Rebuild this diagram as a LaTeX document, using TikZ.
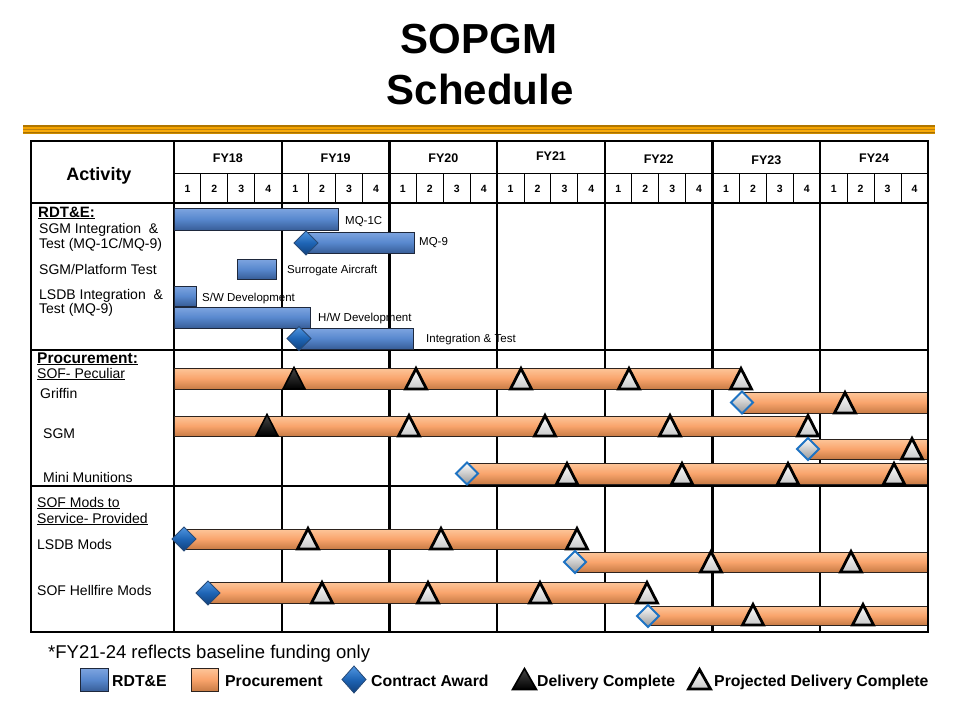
\documentclass[tikz,border=0pt]{standalone}
\usepackage{fontspec}
\setmainfont{Liberation Sans}
% palette
\definecolor{rdtTop}{RGB}{126,165,224}
\definecolor{rdtMid}{RGB}{88,136,206}
\definecolor{rdtBot}{RGB}{56,94,152}
\definecolor{rdtEdge}{RGB}{30,40,60}
\definecolor{procTop}{RGB}{253,198,154}
\definecolor{procMid}{RGB}{249,164,108}
\definecolor{procBot}{RGB}{200,124,70}
\definecolor{procEdge}{RGB}{45,35,30}
\definecolor{triGray}{RGB}{200,200,200}
\definecolor{doneTop}{RGB}{70,70,70}
\definecolor{awTop}{RGB}{80,150,225}
\definecolor{awMid}{RGB}{30,100,180}
\definecolor{awBot}{RGB}{16,64,124}
\definecolor{awEdge}{RGB}{40,75,120}
\definecolor{openGray}{RGB}{150,150,150}
\definecolor{openEdge}{RGB}{30,115,195}
\definecolor{goldA}{RGB}{176,118,0}
\definecolor{goldB}{RGB}{245,164,0}
\definecolor{goldC}{RGB}{190,128,10}
\definecolor{goldD}{RGB}{248,170,10}
\definecolor{goldE}{RGB}{168,112,0}
\definecolor{goldF}{RGB}{205,140,0}
\begin{document}
\begin{tikzpicture}[x=1pt,y=-1pt,
  gridthick/.style={line width=2.2pt},
  gridthin/.style={line width=1pt},
  lbl/.style={anchor=base west,inner sep=0pt,font=\fontsize{14}{15}\selectfont},
  seclbl/.style={anchor=base west,inner sep=0pt,font=\bfseries\fontsize{15.5}{17}\selectfont},
  barlbl/.style={anchor=base west,inner sep=0pt,font=\fontsize{11.5}{13}\selectfont},
  yearlbl/.style={inner sep=0pt,font=\bfseries\fontsize{12.5}{14}\selectfont},
  qlbl/.style={inner sep=0pt,font=\bfseries\fontsize{10.5}{12}\selectfont},
  leglbl/.style={anchor=base west,inner sep=0pt,font=\bfseries\fontsize{15.8}{17}\selectfont},
  rdtbar/.style={top color=rdtTop,bottom color=rdtBot,middle color=rdtMid,
                 draw=rdtEdge,line width=0.9pt},
  procbar/.style={top color=procTop,bottom color=procBot,middle color=procMid,
                  draw=procEdge,line width=0.9pt},
  projshape/.style={top color=white,bottom color=triGray,
                    draw=black,line width=2.8pt,line join=miter},
  doneshape/.style={top color=doneTop,bottom color=black,
                    draw=black,line width=1.6pt,line join=miter},
  awardshape/.style={top color=awTop,bottom color=awBot,middle color=awMid,
                     draw=awEdge,line width=0.8pt},
  openshape/.style={top color=white,bottom color=openGray,
                    draw=openEdge,line width=2pt},
  projtri/.pic={\path[projshape] (-10.5,0) -- (0,-20.5) -- (10.5,0) -- cycle;},
  donetri/.pic={\path[doneshape] (-11,0) -- (0,-21.5) -- (11,0) -- cycle;},
  awardblue/.pic={\path[awardshape] (-12,0) -- (0,-12) -- (12,0) -- (0,12) -- cycle;},
  awardopen/.pic={\path[openshape] (-11,0) -- (0,-11) -- (11,0) -- (0,11) -- cycle;}
]
\useasboundingbox (0,0) rectangle (960,720);

% ---------- title ----------
\node[anchor=base,inner sep=0pt,font=\bfseries\fontsize{42}{48}\selectfont] (title1) at (479,53) {SOPGM};
\node[anchor=base,inner sep=0pt,font=\bfseries\fontsize{42}{48}\selectfont] (title2) at (480,104) {Schedule};

% ---------- gold rule ----------
\fill[goldA] (23,125) rectangle (935,126.8);
\fill[goldB] (23,126.8) rectangle (935,128.6);
\fill[goldC] (23,128.6) rectangle (935,129.6);
\fill[goldD] (23,129.6) rectangle (935,131.6);
\fill[goldE] (23,131.6) rectangle (935,132.6);
\fill[goldF] (23,132.6) rectangle (935,134);

% ---------- table grid ----------
\draw[gridthin] (174,173) -- (928,173);
\foreach \y in {203,350,486} \draw[gridthick] (31,\y) -- (928,\y);
\foreach \i in {0,...,6} {
  \pgfmathsetmacro{\xa}{174+\i*107.71}
  \foreach \k in {1,2,3} {
    \pgfmathsetmacro{\xq}{\xa+\k*26.93}
    \draw[gridthin] (\xq,173) -- (\xq,203);
  }
  \foreach \k in {1,...,4} {
    \pgfmathsetmacro{\xc}{\xa+(\k-0.5)*26.93}
    \node[qlbl] (q\i\k) at (\xc,189) {\k};
  }
}
\foreach \i in {1,...,6} {
  \pgfmathsetmacro{\xa}{174+\i*107.71}
  \draw[gridthick] (\xa,141) -- (\xa,632);
}
\draw[line width=2.8pt] (174,140) -- (174,632);

\node[yearlbl] (fy18) at (227.9,158) {FY18};
\node[yearlbl] (fy19) at (335.6,158) {FY19};
\node[yearlbl] (fy20) at (443.3,158) {FY20};
\node[yearlbl] (fy21) at (551.0,156) {FY21};
\node[yearlbl] (fy22) at (658.7,159) {FY22};
\node[yearlbl] (fy23) at (766.4,160) {FY23};
\node[yearlbl] (fy24) at (874.1,158) {FY24};
\node[inner sep=0pt,font=\bfseries\fontsize{18}{20}\selectfont] (activity) at (99,176) {Activity};

% ---------- activity labels ----------
\node[seclbl,font=\bfseries\fontsize{15}{17}\selectfont] (rdte) at (38,217) {\underline{RDT\&E:}};
\node[lbl] (sgmit1) at (39,233.5) {SGM Integration \ \&};
\node[lbl] (sgmit2) at (39,248) {Test (MQ-1C/MQ-9)};
\node[lbl] (sgmpt) at (39,274) {SGM/Platform Test};
\node[lbl] (lsdbit1) at (39,299) {LSDB Integration \ \&};
\node[lbl] (lsdbit2) at (39,313) {Test (MQ-9)};

\node[seclbl] (proc) at (37,363) {\underline{Procurement:}};
\node[lbl] (sofpec) at (37,378) {\underline{SOF- Peculiar}};
\node[lbl] (griffin) at (40,398) {Griffin};
\node[lbl] (sgm) at (43,438) {SGM};
\node[lbl] (mini) at (43,482) {Mini Munitions};

\node[lbl] (sofmods1) at (37,507) {\underline{SOF Mods to}};
\node[lbl] (sofmods2) at (37,523) {\underline{Service- Provided}};
\node[lbl] (lsdbmods) at (37,549) {LSDB Mods};
\node[lbl] (hellfire) at (37,595) {SOF Hellfire Mods};

% ---------- RDT&E bars ----------
\path[rdtbar] (174,208) rectangle (338,230);
\path[rdtbar] (306,232) rectangle (414,253);
\pic at (306,243) {awardblue};
\path[rdtbar] (237,259) rectangle (276,279);
\path[rdtbar] (174,286) rectangle (196,306);
\path[rdtbar] (174,307) rectangle (310,328);
\path[rdtbar] (299,328) rectangle (413,349);
\pic at (299,338.5) {awardblue};

\node[barlbl] (mq1c) at (345,224) {MQ-1C};
\node[barlbl] (mq9) at (419,245) {MQ-9};
\node[barlbl] (surr) at (287,273) {Surrogate Aircraft};
\node[barlbl] (swdev) at (202,301) {S/W Development};
\node[barlbl] (hwdev) at (318,321) {H/W Development};
\node[barlbl] (intest) at (426,342) {Integration \& Test};

% ---------- procurement bars ----------
% Griffin
\path[procbar] (174,368) rectangle (741,389);
\pic at (294,389) {donetri};
\foreach \x in {416,521,629,741} \pic at (\x,389) {projtri};
\path[procbar] (742,392) rectangle (928,413);
\pic at (742,402.5) {awardopen};
\pic at (845,413) {projtri};
% SGM
\path[procbar] (174,416) rectangle (808,436);
\pic at (267,436) {donetri};
\foreach \x in {409,545,670,808} \pic at (\x,436) {projtri};
\path[procbar] (808,439) rectangle (928,459);
\pic at (808,449) {awardopen};
\pic at (912,459) {projtri};
% Mini Munitions
\path[procbar] (467,463) rectangle (928,484);
\pic at (467,473.5) {awardopen};
\foreach \x in {567,682,788,894} \pic at (\x,484) {projtri};

% ---------- SOF mods bars ----------
% LSDB Mods
\path[procbar] (184,529) rectangle (577,549);
\pic at (184,539) {awardblue};
\foreach \x in {308,441,577} \pic at (\x,549) {projtri};
\path[procbar] (575,552) rectangle (928,572);
\pic at (575,562) {awardopen};
\foreach \x in {711,851} \pic at (\x,572) {projtri};
% SOF Hellfire Mods
\path[procbar] (208,582) rectangle (647,603);
\pic at (208,593) {awardblue};
\foreach \x in {322,428,540,647} \pic at (\x,603) {projtri};
\path[procbar] (648,606) rectangle (928,625);
\pic at (648,616) {awardopen};
\foreach \x in {753,863} \pic at (\x,625) {projtri};

% ---------- outer frame ----------
\draw[line width=2.2pt] (31,141) rectangle (928,632);

% ---------- footnote and legend ----------
\node[anchor=base west,inner sep=0pt,font=\fontsize{18.5}{20}\selectfont] (note) at (48,658) {*FY21-24 reflects baseline funding only};

\path[rdtbar] (80,668) rectangle (108,691);
\node[leglbl] (legrdte) at (112,686) {RDT\&E};
\path[procbar] (191,668) rectangle (218,691);
\node[leglbl] (legproc) at (225,686) {Procurement};
\path[awardshape] (342,679.5) -- (354,666) -- (366,679.5) -- (354,693) -- cycle;
\node[leglbl] (legaward) at (371,686) {Contract Award};
\path[doneshape] (512.5,689.5) -- (524.5,668.5) -- (536.5,689.5) -- cycle;
\node[leglbl] (legdone) at (537,686) {Delivery Complete};
\path[projshape] (688.5,689) -- (699.5,669.5) -- (710.5,689) -- cycle;
\node[leglbl] (legproj) at (714,686) {Projected Delivery Complete};
\end{tikzpicture}
\end{document}
